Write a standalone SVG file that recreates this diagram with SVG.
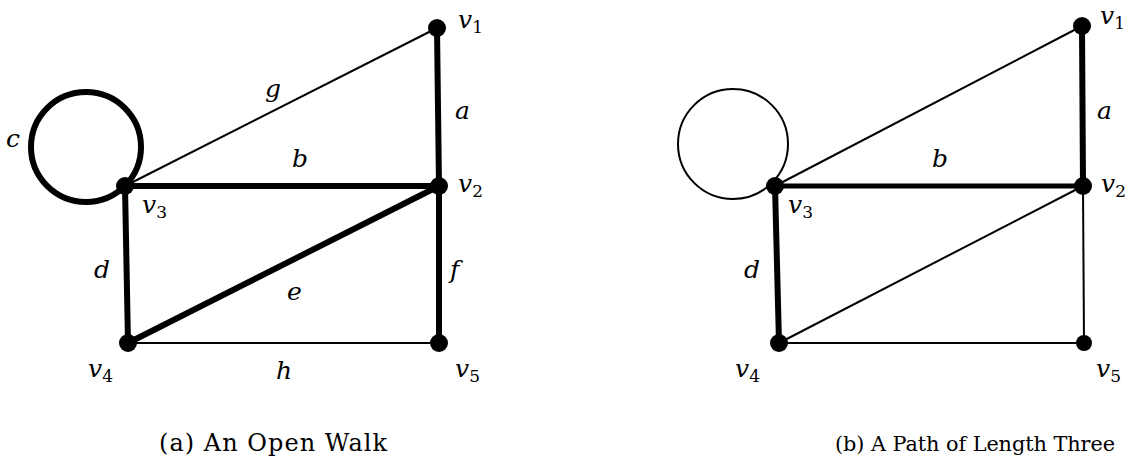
<svg xmlns="http://www.w3.org/2000/svg" width="1131" height="468" viewBox="0 0 1131 468">
<style>
.thin{stroke:#000;stroke-width:2;fill:none}
.thick{stroke:#000;stroke-width:6;fill:none;stroke-linecap:round}
.node{fill:#000}
.lbl{font-family:'DejaVu Serif','Noto Serif',serif;font-style:italic;font-size:25px;fill:#000}
.sub{font-size:17px;font-style:normal}
.cap{font-family:'DejaVu Serif','Noto Serif',serif;font-size:24px;fill:#000}
</style>
<rect width="1131" height="468" fill="#fff"/>
<g id="connectors">
  <line class="thin" x1="125" y1="186" x2="437" y2="28"/>
  <line class="thin" x1="128" y1="343" x2="439" y2="343"/>
  <line class="thick" x1="437" y1="28" x2="439" y2="186"/>
  <line class="thick" x1="125" y1="186" x2="439" y2="186"/>
  <line class="thick" x1="125" y1="186" x2="128" y2="343"/>
  <line class="thick" x1="128" y1="343" x2="439" y2="186"/>
  <line class="thick" x1="439" y1="186" x2="439" y2="343"/>
  <circle class="thick" cx="86" cy="147" r="55"/>
  <line class="thin" x1="775" y1="186" x2="1082" y2="26"/>
  <line class="thin" x1="779" y1="343" x2="1083" y2="186"/>
  <line class="thin" x1="1083" y1="186" x2="1084" y2="343"/>
  <line class="thin" x1="779" y1="343" x2="1084" y2="343"/>
  <circle class="thin" cx="733" cy="144" r="55"/>
  <line class="thick" x1="1082" y1="26" x2="1083" y2="186"/>
  <line class="thick" x1="775" y1="186" x2="1083" y2="186" style="stroke-width:5"/>
  <line class="thick" x1="775" y1="186" x2="779" y2="343"/>
</g>
<g id="edge-labels">
  <text class="lbl" x="265" y="97">g</text>
  <text class="lbl" x="455" y="119">a</text>
  <text class="lbl" x="6" y="147">c</text>
  <text class="lbl" x="292" y="167">b</text>
  <text class="lbl" x="94" y="278">d</text>
  <text class="lbl" x="287" y="300">e</text>
  <text class="lbl" x="450" y="278">f</text>
  <text class="lbl" x="276" y="379">h</text>
  <text class="lbl" x="1097" y="119">a</text>
  <text class="lbl" x="932" y="167">b</text>
  <text class="lbl" x="744" y="278">d</text>
</g>
<g id="a-v1"><circle class="node" cx="437" cy="28" r="9"/><text class="lbl" x="458" y="28">v<tspan class="sub" dy="5">1</tspan></text></g>
<g id="a-v2"><circle class="node" cx="439" cy="186" r="9"/><text class="lbl" x="458" y="192">v<tspan class="sub" dy="5">2</tspan></text></g>
<g id="a-v3"><circle class="node" cx="125" cy="186" r="9"/><text class="lbl" x="142" y="213">v<tspan class="sub" dy="5">3</tspan></text></g>
<g id="a-v4"><circle class="node" cx="128" cy="343" r="9"/><text class="lbl" x="88" y="377">v<tspan class="sub" dy="5">4</tspan></text></g>
<g id="a-v5"><circle class="node" cx="439" cy="343" r="9"/><text class="lbl" x="455" y="377">v<tspan class="sub" dy="5">5</tspan></text></g>
<g id="b-v1"><circle class="node" cx="1082" cy="26" r="9"/><text class="lbl" x="1100" y="24">v<tspan class="sub" dy="5">1</tspan></text></g>
<g id="b-v2"><circle class="node" cx="1083" cy="186" r="9"/><text class="lbl" x="1101" y="192">v<tspan class="sub" dy="5">2</tspan></text></g>
<g id="b-v3"><circle class="node" cx="775" cy="186" r="9"/><text class="lbl" x="788" y="213">v<tspan class="sub" dy="5">3</tspan></text></g>
<g id="b-v4"><circle class="node" cx="779" cy="343" r="9"/><text class="lbl" x="735" y="377">v<tspan class="sub" dy="5">4</tspan></text></g>
<g id="b-v5"><circle class="node" cx="1084" cy="343" r="8"/><text class="lbl" x="1096" y="377">v<tspan class="sub" dy="5">5</tspan></text></g>
<g id="captions">
  <text class="cap" x="159" y="451" textLength="228" lengthAdjust="spacing">(a) An Open Walk</text>
  <text class="cap" x="835" y="451" style="font-size:20.8px" textLength="280" lengthAdjust="spacing">(b) A Path of Length Three</text>
</g>
</svg>
